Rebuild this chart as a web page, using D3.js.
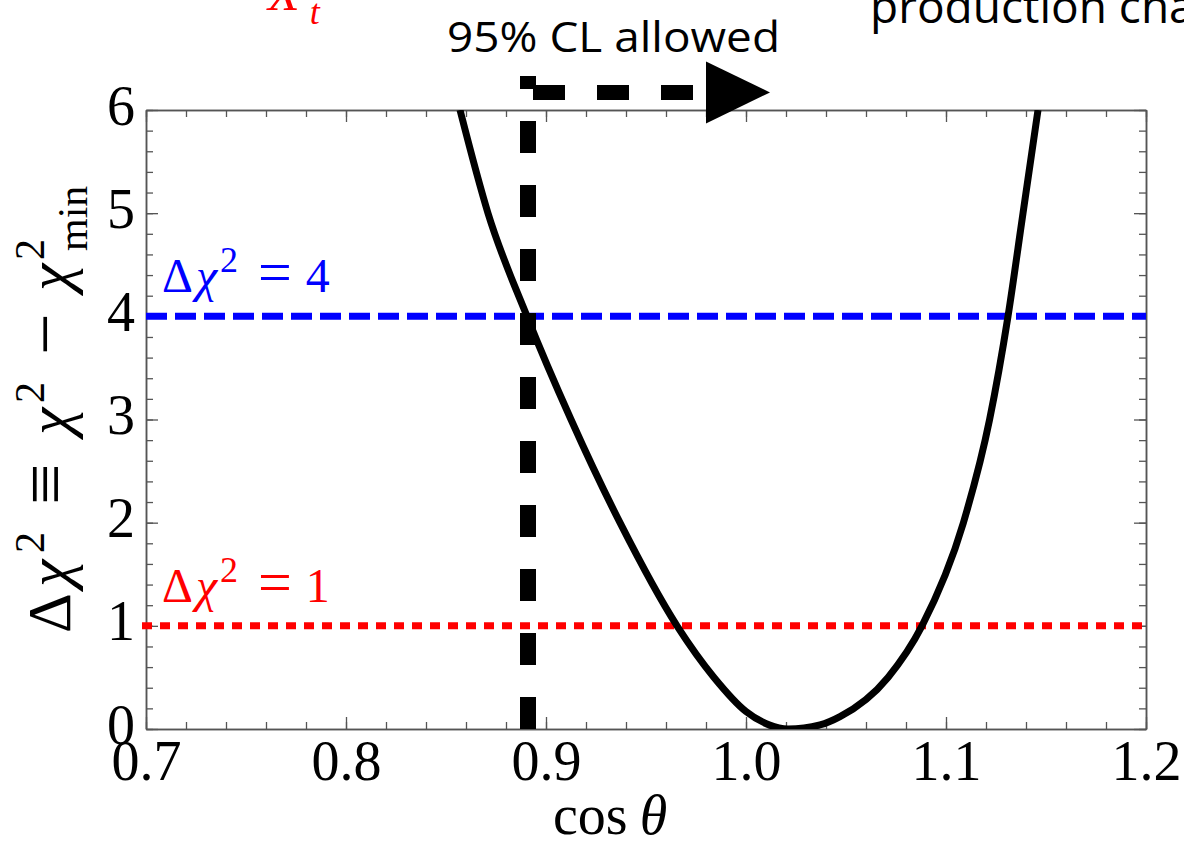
<!DOCTYPE html>
<html>
<head>
<meta charset="utf-8">
<script src="https://cdn.jsdelivr.net/npm/d3@7"></script>
<style>
  body { margin: 0; background: #fff; }
  svg { display: block; }
</style>
</head>
<body>
<svg id="chart" width="1184" height="843"></svg>
<script>
// curve points (cos theta, delta chi^2)
const cosTheta = [0.857, 0.871, 0.8905, 0.9125, 0.937, 0.9655, 0.984, 1.0, 1.0115, 1.021, 1.037, 1.047, 1.071, 1.088, 1.1087, 1.1218, 1.131, 1.1385, 1.146];
const deltaChi2 = [6, 5, 4, 3, 2, 1, 0.5, 0.17, 0.04, 0, 0.04, 0.12, 0.5, 1, 2, 3, 4, 5, 6];

const xTicks = [0.7, 0.8, 0.9, 1.0, 1.1, 1.2];
const yTicks = [0, 1, 2, 3, 4, 5, 6];

// reference levels
const levelBlue = 4;
const levelRed = 1;

// 95% CL cut and the arrow above the frame
const allowedCut = 0.891;
const cutTop = 6.33;
const arrowY = 6.17;
const arrowBase = 0.98;
const arrowTip = 1.012;

const width = 1184, height = 843;
const margin = { left: 146, right: 38, top: 110, bottom: 114 };
const iw = width - margin.left - margin.right;
const ih = height - margin.top - margin.bottom;

const svg = d3.select("#chart");
const vis = svg.append("g").attr("transform", `translate(${margin.left}, ${margin.top})`);

const xScale = d3.scaleLinear().domain([0.7, 1.2]).range([0, iw]);
const yScale = d3.scaleLinear().domain([0, 6]).range([ih, 0]);

const serif = "'Liberation Serif', 'Times New Roman', serif";
const sans = "'Open Sans', 'Liberation Sans', sans-serif";

svg.append("defs").append("clipPath").attr("id", "plotclip")
    .append("rect").attr("x", 0).attr("y", 0).attr("width", iw).attr("height", ih);

// minor ticks
const xMinor = d3.range(0, 26).map(i => 0.7 + i * 0.02);
const yMinor = d3.range(0, 31).map(i => i * 0.2);

function styleAxis(g) {
    g.selectAll("path").attr("stroke", "#555").attr("stroke-width", 1.5);
    g.selectAll("line").attr("stroke", "#555").attr("stroke-width", 1.3);
}

// bottom
vis.append("g").attr("transform", `translate(0, ${ih})`)
    .call(d3.axisBottom(xScale).tickValues(xMinor).tickSizeInner(-7).tickSizeOuter(0).tickFormat(""))
    .call(styleAxis);
const xAxis = vis.append("g").attr("transform", `translate(0, ${ih})`)
    .call(d3.axisBottom(xScale).tickValues(xTicks).tickSizeInner(-12).tickSizeOuter(0)
        .tickPadding(11).tickFormat(d3.format(".1f")))
    .call(styleAxis);
xAxis.selectAll("text").attr("font-family", serif).attr("font-size", 56).attr("fill", "#000");

// top
vis.append("g")
    .call(d3.axisTop(xScale).tickValues(xMinor).tickSizeInner(-7).tickSizeOuter(0).tickFormat(""))
    .call(styleAxis);
vis.append("g")
    .call(d3.axisTop(xScale).tickValues(xTicks).tickSizeInner(-12).tickSizeOuter(0).tickFormat(""))
    .call(styleAxis);

// left
vis.append("g")
    .call(d3.axisLeft(yScale).tickValues(yMinor).tickSizeInner(-7).tickSizeOuter(0).tickFormat(""))
    .call(styleAxis);
const yAxis = vis.append("g")
    .call(d3.axisLeft(yScale).tickValues(yTicks).tickSizeInner(-12).tickSizeOuter(0)
        .tickPadding(11).tickFormat(d3.format("d")))
    .call(styleAxis);
yAxis.selectAll("text").attr("font-family", serif).attr("font-size", 56).attr("fill", "#000").attr("dy", "0.25em");

// right
vis.append("g").attr("transform", `translate(${iw}, 0)`)
    .call(d3.axisRight(yScale).tickValues(yMinor).tickSizeInner(-7).tickSizeOuter(0).tickFormat(""))
    .call(styleAxis);
vis.append("g").attr("transform", `translate(${iw}, 0)`)
    .call(d3.axisRight(yScale).tickValues(yTicks).tickSizeInner(-12).tickSizeOuter(0).tickFormat(""))
    .call(styleAxis);

// reference lines
vis.append("line")
    .attr("x1", xScale(0.7)).attr("x2", xScale(1.2))
    .attr("y1", yScale(levelBlue)).attr("y2", yScale(levelBlue))
    .attr("stroke", "#0000ff").attr("stroke-width", 7).attr("stroke-dasharray", "21,8");
vis.append("line")
    .attr("x1", xScale(0.7) - 4).attr("x2", xScale(1.2) + 4)
    .attr("y1", yScale(levelRed)).attr("y2", yScale(levelRed))
    .attr("stroke", "#ff0000").attr("stroke-width", 7).attr("stroke-dasharray", "10,8");

// 95% CL cut: vertical dashes from the bottom up past the frame
vis.append("line")
    .attr("x1", xScale(allowedCut)).attr("x2", xScale(allowedCut))
    .attr("y1", yScale(0)).attr("y2", yScale(cutTop))
    .attr("stroke", "#000").attr("stroke-width", 16).attr("stroke-dasharray", "32,32");
vis.append("line")
    .attr("x1", xScale(allowedCut) + 5).attr("x2", xScale(arrowBase))
    .attr("y1", yScale(arrowY)).attr("y2", yScale(arrowY))
    .attr("stroke", "#000").attr("stroke-width", 15).attr("stroke-dasharray", "32,32");
vis.append("path")
    .attr("d", `M${xScale(arrowBase)},${yScale(arrowY) - 31} L${xScale(arrowTip)},${yScale(arrowY)} L${xScale(arrowBase)},${yScale(arrowY) + 31} Z`)
    .attr("fill", "#000");

// chi^2 curve
const pts = cosTheta.map((c, i) => ({ x: c, y: deltaChi2[i] }));
const line = d3.line()
    .x(d => xScale(d.x))
    .y(d => yScale(d.y))
    .curve(d3.curveMonotoneX);
vis.append("path")
    .datum(pts)
    .attr("clip-path", "url(#plotclip)")
    .attr("fill", "none")
    .attr("stroke", "#000")
    .attr("stroke-width", 7)
    .attr("stroke-linejoin", "round")
    .attr("d", line);

// level labels
function levelLabel(val, color) {
    const t = vis.append("text")
        .attr("x", 16).attr("y", yScale(val) - 24)
        .attr("font-family", serif).attr("font-size", 48).attr("fill", color);
    t.append("tspan").text("Δ");
    t.append("tspan").attr("dx", 3).attr("font-style", "italic").text("χ");
    t.append("tspan").attr("font-size", 36).attr("dy", -20).attr("dx", 3).text("2");
    t.append("tspan").attr("font-size", 60).attr("dy", 20).attr("dx", 20).text("=");
    t.append("tspan").attr("dx", 14).text(String(val));
}
levelLabel(levelBlue, "#0000ff");
levelLabel(levelRed, "#ff0000");

// axis titles
const xt = svg.append("text")
    .attr("x", 553).attr("y", 834)
    .attr("font-family", serif).attr("font-size", 56).attr("fill", "#000");
xt.append("tspan").text("cos");
xt.append("tspan").attr("dx", 12).attr("font-style", "italic").text("θ");

// y title, laid out along the rotated baseline
const yt = svg.append("text")
    .attr("transform", "translate(70, 633) rotate(-90)")
    .attr("font-family", serif).attr("font-size", 62).attr("fill", "#000");
const yParts = [
    { t: "Δ", x: 0, dy: 0 },
    { t: "χ", x: 46, dy: 0, it: true },
    { t: "2", x: 80, dy: -26, fs: 42 },
    { t: "≡", x: 128, dy: 0, fs: 74 },
    { t: "χ", x: 198, dy: 0, it: true },
    { t: "2", x: 230, dy: -26, fs: 42 },
    { t: "−", x: 278, dy: 0, fs: 74 },
    { t: "χ", x: 342, dy: 0, it: true },
    { t: "2", x: 373, dy: -26, fs: 42 },
    { t: "min", x: 382, dy: 17, fs: 42 }
];
yParts.forEach(p => {
    yt.append("tspan")
        .attr("x", p.x).attr("y", p.dy)
        .attr("font-size", p.fs || null)
        .attr("font-style", p.it ? "italic" : null)
        .text(p.t);
});

// annotation texts around the figure
svg.append("text")
    .attr("x", 447).attr("y", 52)
    .attr("font-family", sans).attr("font-size", 42).attr("fill", "#000")
    .attr("textLength", 333).attr("lengthAdjust", "spacingAndGlyphs")
    .text("95% CL allowed");
svg.append("text")
    .attr("x", 870).attr("y", 23)
    .attr("font-family", sans).attr("font-size", 46).attr("fill", "#000")
    .text("production cha");
const xtLabel = svg.append("text")
    .attr("x", 268).attr("y", 10)
    .attr("font-family", serif).attr("font-size", 52).attr("font-style", "italic").attr("fill", "#ff0000");
xtLabel.append("tspan").text("X");
xtLabel.append("tspan").attr("font-size", 36).attr("dy", 14).attr("dx", 10).text("t");
</script>
</body>
</html>
